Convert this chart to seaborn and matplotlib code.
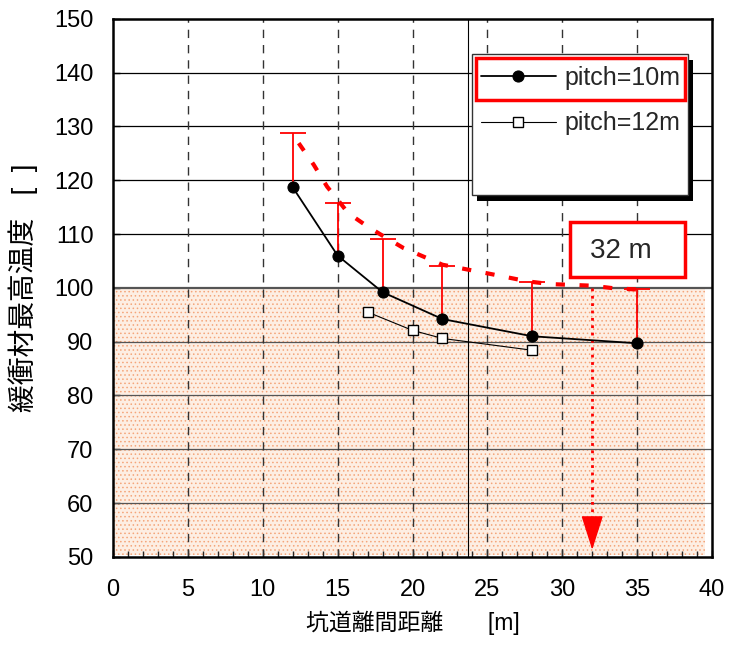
import numpy as np
import pandas as pd
import matplotlib
matplotlib.use("Agg")
import matplotlib.pyplot as plt
from matplotlib.patches import Rectangle
import seaborn as sns

# ---- data ----
dist10 = [12, 15, 18, 22, 28, 35]
temp10 = [118.7, 106.0, 99.2, 94.2, 91.0, 89.7]
dist12 = [17, 20, 22, 28]
temp12 = [95.5, 92.1, 90.6, 88.4]
err_top10 = [128.7, 115.7, 109.0, 104.1, 101.0, 99.7]
curve_x = [12.4, 13.4, 14.3, 15.0, 15.7, 17.0, 18.0, 19.4, 22.0, 25.0, 27.7, 29.2, 32.0, 33.5, 35.0]
curve_y = [126.9, 122.9, 118.8, 116.4, 113.9, 111.4, 109.7, 107.4, 104.3, 102.7, 101.2, 100.7, 100.4, 99.9, 99.7]
marker_x = 32
limit_temp = 100
labels = ["pitch=10m", "pitch=12m"]
xticks = list(range(0, 41, 5))
yticks = list(range(50, 151, 10))

sns.set_theme(style="white")
plt.rcParams["font.family"] = ["Liberation Sans", "Noto Sans CJK JP"]
plt.rcParams["hatch.linewidth"] = 0.6

fig = plt.figure(figsize=(7.29, 6.46), dpi=100)
ax = fig.add_axes([0.155, 0.138, 0.8217, 0.8328])
ax.set_xlim(0, 40)
ax.set_ylim(50, 150)

# shaded region below limit
ax.add_patch(Rectangle((0, 50.3), 39.5, limit_temp - 50.3, facecolor="#fdeee3",
                       edgecolor="#f4a57a", hatch="....", lw=0, zorder=0.5))

# grid
for y in yticks[1:-1]:
    ax.axhline(y, color="#555555" if y <= limit_temp else "black",
               lw=1.6 if y == limit_temp else 0.9, zorder=1)
for x in xticks[1:-1]:
    ax.axvline(x, color="#333333", lw=1.0, ls=(0, (6, 5)), zorder=1)
ax.axvline(23.7, color="black", lw=0.8, zorder=1)

# error bars (upper only)
t10 = np.array(temp10)
eb = ax.errorbar(dist10, temp10, yerr=[np.zeros(len(t10)), np.array(err_top10) - t10],
                 fmt="none", ecolor="red", elinewidth=1.3, capsize=9.5, capthick=1.3, zorder=2.5)
for cl in eb[1]:
    if np.allclose(cl.get_ydata(), t10):
        cl.set_visible(False)

# dashed envelope
ax.plot(curve_x, curve_y, color="red", lw=3, dashes=(2.2, 3.5), zorder=2.6)

# series
sns.lineplot(x=dist10, y=temp10, ax=ax, color="black", lw=1.3, marker="o", markersize=8,
             markeredgecolor="black", markerfacecolor="black", label=labels[0], zorder=3)
sns.lineplot(x=dist12, y=temp12, ax=ax, color="black", lw=0.8, marker="s", markersize=7,
             markeredgecolor="black", markerfacecolor="white", markeredgewidth=1.0,
             label=labels[1], zorder=3)

# arrow at 32 m
ax.plot([marker_x, marker_x], [limit_temp, 54], color="red", ls=":", lw=2, zorder=2.7)
ax.annotate("", xy=(marker_x, 50.8), xytext=(marker_x, 55),
            arrowprops=dict(arrowstyle="-|>,head_length=1.1,head_width=0.35",
                            color="red", lw=1, mutation_scale=20), zorder=2.8)

# 32 m box
ax.add_patch(Rectangle((30.5, 102.0), 7.7, 10.3, facecolor="white", edgecolor="red",
                       lw=2.5, zorder=4))
ax.text(33.9, 106.8, "32 m", fontsize=20, ha="center", va="center", zorder=5)

# legend frame
ax.add_patch(Rectangle((24.28, 116.2), 14.45, 26.2, facecolor="black", edgecolor="none", zorder=4))
ax.add_patch(Rectangle((23.95, 117.3), 14.45, 26.2, facecolor="white", edgecolor="#333333",
                       lw=1, zorder=4.1))
handles, labs = ax.get_legend_handles_labels()
leg = ax.legend(handles, labs, loc="upper left", bbox_to_anchor=(0.614, 0.912),
                frameon=False, fontsize=18, handlelength=3.0, handletextpad=0.35,
                labelspacing=0.85, borderpad=0, borderaxespad=0)
leg.set_zorder(5)
ax.add_patch(Rectangle((24.26, 134.9), 13.94, 7.9, facecolor="none", edgecolor="red",
                       lw=2.5, zorder=6))

# axes styling
ax.set_xticks(xticks)
ax.set_yticks(yticks)
ax.set_xticks(np.arange(0, 41, 1), minor=True)
ax.tick_params(axis="x", which="major", direction="in", length=5, width=1, pad=16,
               labelsize=17, colors="black", bottom=True)
ax.tick_params(axis="x", which="minor", direction="in", length=4, width=1, bottom=True)
ax.tick_params(axis="y", which="major", direction="in", length=5, width=1, pad=14,
               labelsize=17, colors="black", left=True)
for s in ax.spines.values():
    s.set_color("black")
    s.set_linewidth(1.8)
ax.set_facecolor("white")

ax.set_xlabel("坑道離間距離       [m]", fontsize=16.5, labelpad=7, color="black")
ax.set_ylabel("緩衝材最高温度   [  ]", fontsize=20, color="black")
ax.yaxis.set_label_coords(-0.125, 0.5)

fig.savefig("out.png", dpi=100, facecolor="white")
